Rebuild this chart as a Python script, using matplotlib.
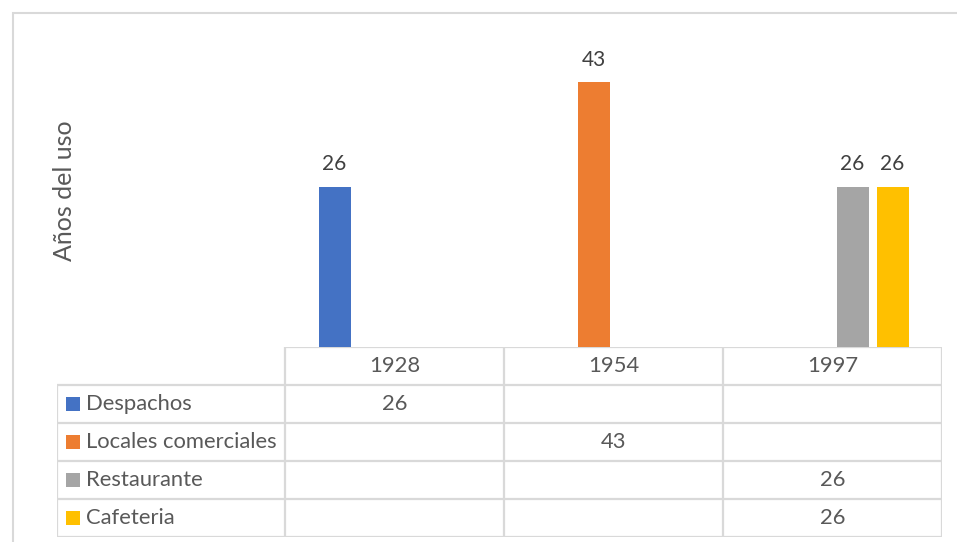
import numpy as np
import matplotlib.pyplot as plt
from matplotlib.patches import Rectangle

# datos del gráfico
years = ["1928", "1954", "1997"]
series = ["Despachos", "Locales comerciales", "Restaurante", "Cafeteria"]
values = [
    [26, None, None],   # Despachos
    [None, 43, None],   # Locales comerciales
    [None, None, 26],   # Restaurante
    [None, None, 26],   # Cafeteria
]
colors = ["#4472C4", "#ED7D31", "#A5A5A5", "#FFC000"]

W, H = 957, 542
txt = "#595959"
grid = "#D9D9D9"
plt.rcParams["font.family"] = ["Lato", "DejaVu Sans"]

fig = plt.figure(figsize=(W / 100, H / 100), dpi=100)

def px(x0, y0, x1, y1):
    # pixel box (top-left origin) -> figure fraction
    return [x0 / W, 1 - y1 / H, (x1 - x0) / W, (y1 - y0) / H]

# marco exterior
fig.patches.append(Rectangle((12.5 / W, -0.1), 1.1, 1 - 12.5 / H + 0.1,
                             transform=fig.transFigure, fill=False,
                             edgecolor=grid, linewidth=1.5))

# --- barras ---
ax = fig.add_axes(px(285, 39.3, 942, 347))
n = len(series)
step = 40 / 219
width = 32 / 219
x = np.arange(len(years)) + 0.5
for i, (name, vals, c) in enumerate(zip(series, values, colors)):
    off = (i - (n - 1) / 2) * step
    for j, v in enumerate(vals):
        if v is None:
            continue
        ax.bar(x[j] + off, v, width=width, color=c)
        ax.annotate(str(v), (x[j] + off, v), xytext=(0, 9), textcoords="offset points",
                    ha="center", va="bottom", fontsize=15, color="#404040")
ax.set_xlim(0, len(years))
ax.set_ylim(0, 50)
ax.axis("off")

fig.text(65 / W, 1 - 190.5 / H, "Años del uso", rotation=90, ha="center", va="center",
         fontsize=18, color=txt)

# --- tabla de datos ---
tb = fig.add_axes(px(57, 347, 942, 537))
lab_w = 228 / 219
tb.set_xlim(-lab_w, len(years))
tb.set_ylim(len(series) + 1, 0)
tb.axis("off")
lw = 1.6
# fila de encabezado
tb.hlines(0, 0, len(years), color=grid, lw=lw)
for r in range(1, len(series) + 2):
    tb.hlines(r, -lab_w, len(years), color=grid, lw=lw)
tb.vlines(-lab_w, 1, len(series) + 1, color=grid, lw=lw)
for k in range(len(years) + 1):
    tb.vlines(k, 0, len(series) + 1, color=grid, lw=lw)
fs = 15.8
for j, y in enumerate(years):
    tb.text(j + 0.5, 0.5, y, ha="center", va="center", fontsize=fs, color=txt)
for i, (name, vals, c) in enumerate(zip(series, values, colors)):
    r = i + 1.5
    tb.add_patch(Rectangle((-lab_w + 9 / 219, r - 7 / 38), 14 / 219, 14 / 38,
                           color=c, lw=0))
    tb.text(-lab_w + 29 / 219, r, name, ha="left", va="center", fontsize=fs, color=txt)
    for j, v in enumerate(vals):
        if v is not None:
            tb.text(j + 0.5, r, str(v), ha="center", va="center", fontsize=fs, color=txt)

fig.savefig("out.png", dpi=100, facecolor="white")
